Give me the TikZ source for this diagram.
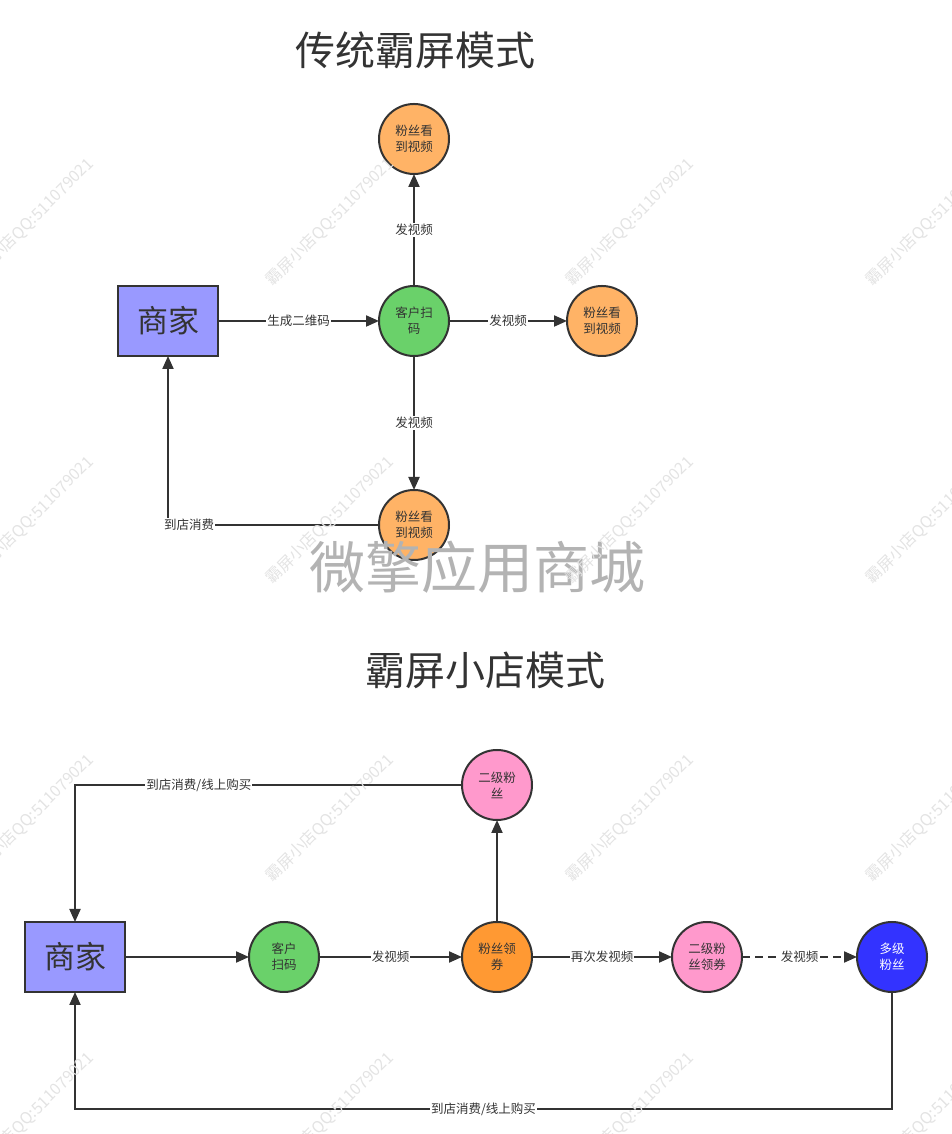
\documentclass[tikz,border=0pt]{standalone}
\usepackage{fontspec}
\setmainfont{Noto Sans CJK SC}
\usetikzlibrary{positioning,arrows.meta}

\definecolor{edgegray}{HTML}{333333}
\definecolor{shopblue}{HTML}{9999FF}
\definecolor{scangreen}{HTML}{6AD16A}
\definecolor{fanorange}{HTML}{FFB366}
\definecolor{couponorange}{HTML}{FF9933}
\definecolor{fanpink}{HTML}{FF99CC}
\definecolor{fanblue}{HTML}{3333FF}
\definecolor{markgray}{HTML}{B3B3B3}
\definecolor{stampgray}{HTML}{E3E3E3}

\begin{document}
\begin{tikzpicture}[x=1pt,y=1pt,
    shopbox/.style={draw=edgegray, line width=2pt, fill=shopblue, minimum width=100pt,
      minimum height=70pt, inner sep=0pt, outer sep=0pt, text=edgegray, font=\fontsize{31}{31}\selectfont},
    fanball/.style={circle, draw=edgegray, line width=2pt, minimum size=70pt, inner sep=0pt,
      outer sep=0pt, align=center, text=edgegray, font=\fontsize{12.5}{16}\selectfont},
    flow/.style={draw=edgegray, line width=2pt, -{Triangle[length=13pt,width=11pt]}},
    lbl/.style={fill=white, inner sep=1pt, text=edgegray, font=\fontsize{12.5}{14}\selectfont},
    headline/.style={text=edgegray, font=\fontsize{40}{40}\selectfont},
    stamp/.style={rotate=45, text=stampgray, font=\fontsize{16}{16}\selectfont}]
  \useasboundingbox (0,0) rectangle (952,1134);

  % traditional mode
  \node[headline] (titleA) at (415,1084) {传统霸屏模式};
  \node[shopbox] (shopA) at (168,813) {商家};
  \node[fanball, fill=scangreen, right=161pt of shopA] (scanA) {客户扫\\码};
  \node[fanball, fill=fanorange, right=118pt of scanA] (fanR) {粉丝看\\到视频};
  \node[fanball, fill=fanorange, above=112pt of scanA] (fanT) {粉丝看\\到视频};
  \node[fanball, fill=fanorange, below=134pt of scanA] (fanB) {粉丝看\\到视频};

  \draw[flow] (shopA) -- node[lbl] {生成二维码} (scanA);
  \draw[flow] (scanA) -- node[lbl] {发视频} (fanT);
  \draw[flow] (scanA) -- node[lbl] {发视频} (fanR);
  \draw[flow] (scanA) -- node[lbl] {发视频} (fanB);
  \draw[flow] (fanB.west) -- node[lbl, pos=0.9] {到店消费} (fanB.west -| shopA.south) -- (shopA.south);

  % shop mode
  \node[headline] (titleB) at (485,464) {霸屏小店模式};
  \node[shopbox] (shopB) at (75,177) {商家};
  \node[fanball, fill=scangreen, right=124pt of shopB] (scanB) {客户\\扫码};
  \node[fanball, fill=couponorange, right=143pt of scanB] (couponB) {粉丝领\\券};
  \node[fanball, fill=fanpink, above=102pt of couponB] (fanTwoB) {二级粉\\丝};
  \node[fanball, fill=fanpink, right=140pt of couponB] (couponTwoB) {二级粉\\丝领券};
  \node[fanball, fill=fanblue, text=white, right=115pt of couponTwoB] (fanMoreB) {多级\\粉丝};
  \coordinate (baseB) at (0,25);

  \draw[flow] (shopB) -- (scanB);
  \draw[flow] (scanB) -- node[lbl] {发视频} (couponB);
  \draw[flow] (couponB) -- (fanTwoB);
  \draw[flow] (couponB) -- node[lbl] {再次发视频} (couponTwoB);
  \draw[flow, dash pattern=on 8pt off 5pt] (couponTwoB) -- node[lbl] {发视频} (fanMoreB);
  \draw[flow] (fanTwoB.west) -- node[lbl, pos=0.68] {到店消费/线上购买} (fanTwoB.west -| shopB.north) -- (shopB.north);
  \draw[flow] (fanMoreB.south) -- (fanMoreB.south |- baseB)
    -- node[lbl] {到店消费/线上购买} (shopB.south |- baseB) -- (shopB.south);

  % watermarks
  \node[text=markgray, font=\fontsize{56}{56}\selectfont] (markA) at (477,567) {微擎应用商城};
  \foreach \col in {30,330,630,930}
    \foreach \row in {912,614,316,18}
      \node[stamp] at (\col,\row) {霸屏小店QQ:511079021};
\end{tikzpicture}
\end{document}
